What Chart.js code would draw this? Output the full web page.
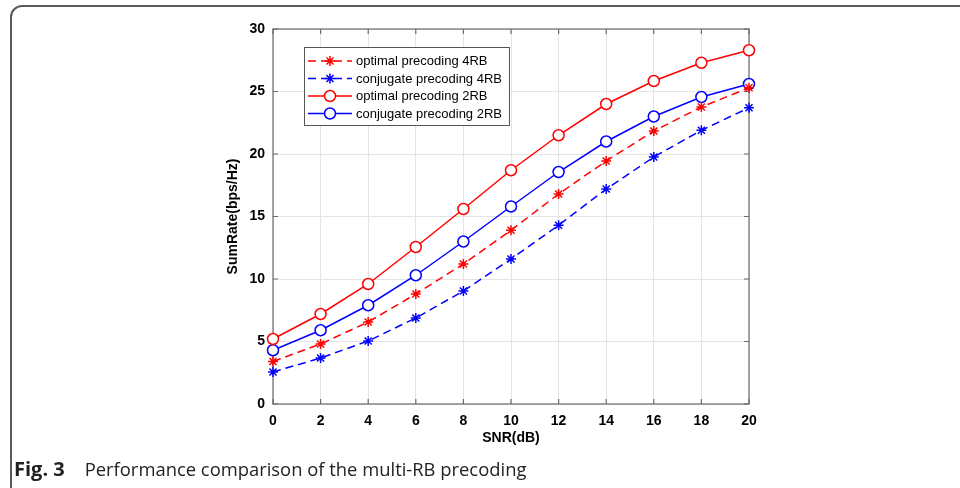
<!DOCTYPE html>
<html><head><meta charset="utf-8">
<script src="https://cdn.jsdelivr.net/npm/chart.js@4/dist/chart.umd.min.js"></script>
<style>
html,body{margin:0;padding:0;background:#fff;width:960px;height:488px;overflow:hidden}
#frame{position:absolute;left:10px;top:5px;width:1000px;height:600px;border:2px solid #5a5a5a;border-radius:12px;box-sizing:border-box}
#wrap{position:absolute;left:0;top:0;width:960px;height:488px}
#cap{position:absolute;left:14px;top:456px;font-family:"Open Sans";font-size:18.4px;color:#222;white-space:nowrap;line-height:26px}
#cap b{font-weight:700;font-size:20px;margin-right:20px}
</style></head><body>
<div id="frame"></div>
<div id="wrap"><canvas id="c" width="960" height="488"></canvas></div>
<div id="cap"><b>Fig. 3</b>Performance comparison of the multi-RB precoding</div>
<script>
const snr = [0, 2, 4, 6, 8, 10, 12, 14, 16, 18, 20];
const optimal4RB   = [3.4, 4.8, 6.56, 8.8, 11.2, 13.9, 16.8, 19.44, 21.84, 23.76, 25.3];
const conjugate4RB = [2.56, 3.68, 5.04, 6.88, 9.04, 11.6, 14.3, 17.2, 19.76, 21.9, 23.7];
const optimal2RB   = [5.2, 7.2, 9.6, 12.56, 15.6, 18.7, 21.5, 24.0, 25.84, 27.3, 28.3];
const conjugate2RB = [4.3, 5.9, 7.9, 10.3, 13.0, 15.8, 18.56, 21.0, 23.0, 24.56, 25.6];
const seriesLabels = ['optimal precoding 4RB','conjugate precoding 4RB','optimal precoding 2RB','conjugate precoding 2RB'];
const xTicks = snr;
const yTicks = [0, 5, 10, 15, 20, 25, 30];

const RED = '#ff0000', BLUE = '#0000ff';
const pts = arr => arr.map((v, i) => ({x: snr[i], y: v}));
function ds(label, data, color, dashed, style) {
  return {
    label, data: pts(data), borderColor: color, backgroundColor: style === 'circle' ? '#ffffff' : color,
    borderWidth: 1.5, borderDash: dashed ? [8, 5] : [], pointStyle: style,
    pointRadius: style === 'circle' ? 5.5 : 5, pointBorderColor: color,
    pointBackgroundColor: style === 'circle' ? '#ffffff' : color,
    pointBorderWidth: 1.5, tension: 0, clip: false, fill: false
  };
}

function drawMarker(ctx, style, x, y, color) {
  ctx.save();
  ctx.setLineDash([]);
  ctx.strokeStyle = color; ctx.lineWidth = 1.5;
  if (style === 'circle') {
    ctx.fillStyle = '#fff';
    ctx.beginPath(); ctx.arc(x, y, 5.5, 0, Math.PI * 2); ctx.fill(); ctx.stroke();
  } else {
    const r = 5;
    ctx.beginPath();
    for (let k = 0; k < 4; k++) {
      const a = k * Math.PI / 4;
      ctx.moveTo(x - r * Math.cos(a), y - r * Math.sin(a));
      ctx.lineTo(x + r * Math.cos(a), y + r * Math.sin(a));
    }
    ctx.stroke();
  }
  ctx.restore();
}

const boxPlugin = {
  id: 'box',
  beforeDatasetsDraw(chart) {
    const {ctx, chartArea: a, scales} = chart;
    ctx.save();
    ctx.strokeStyle = '#6b6b6b'; ctx.lineWidth = 1.2;
    ctx.strokeRect(a.left, a.top, a.right - a.left, a.bottom - a.top);
    ctx.beginPath();
    xTicks.forEach(t => {
      const px = scales.x.getPixelForValue(t);
      ctx.moveTo(px, a.bottom); ctx.lineTo(px, a.bottom - 5);
      ctx.moveTo(px, a.top); ctx.lineTo(px, a.top + 5);
    });
    yTicks.forEach(t => {
      const py = scales.y.getPixelForValue(t);
      ctx.moveTo(a.left, py); ctx.lineTo(a.left + 5, py);
      ctx.moveTo(a.right, py); ctx.lineTo(a.right - 5, py);
    });
    ctx.stroke();
    ctx.restore();
  },
  afterDatasetsDraw(chart) {
    const {ctx} = chart;
    const L = 304, T = 47, W = 205, H = 78;
    ctx.save();
    ctx.fillStyle = '#fff';
    ctx.fillRect(L, T, W, H);
    ctx.strokeStyle = '#555'; ctx.lineWidth = 1;
    ctx.strokeRect(L + 0.5, T + 0.5, W, H);
    const rows = [61, 78.5, 96, 113.5];
    chart.data.datasets.forEach((d, i) => {
      const y = rows[i];
      ctx.strokeStyle = d.borderColor; ctx.lineWidth = 1.5;
      ctx.setLineDash(d.borderDash);
      ctx.beginPath(); ctx.moveTo(308, y); ctx.lineTo(352, y); ctx.stroke();
      drawMarker(ctx, d.pointStyle, 330, y, d.borderColor);
      ctx.setLineDash([]);
      ctx.fillStyle = '#000';
      ctx.font = '13px "Liberation Sans", Arial, sans-serif';
      ctx.textBaseline = 'middle';
      ctx.fillText(d.label, 356, y + 0.5);
    });
    ctx.restore();
  }
};

new Chart(document.getElementById('c'), {
  type: 'line',
  data: {
    datasets: [
      ds(seriesLabels[0], optimal4RB, RED, true, 'star'),
      ds(seriesLabels[1], conjugate4RB, BLUE, true, 'star'),
      ds(seriesLabels[2], optimal2RB, RED, false, 'circle'),
      ds(seriesLabels[3], conjugate2RB, BLUE, false, 'circle')
    ]
  },
  options: {
    responsive: false, animation: false, devicePixelRatio: 1,
    layout: {padding: {left: 220, top: 29, right: 211, bottom: 38}},
    plugins: {legend: {display: false}, tooltip: {enabled: false}},
    scales: {
      x: {
        type: 'linear', min: 0, max: 20,
        afterBuildTicks: s => { s.ticks = xTicks.map(v => ({value: v})); },
        afterFit: s => { s.height = 46; },
        grid: {color: '#e4e4e4', drawTicks: false, lineWidth: 1},
        border: {display: false},
        ticks: {padding: 9, color: '#000', font: {family: '"Liberation Sans", Arial', size: 14, weight: 'bold'}, maxRotation: 0},
        title: {display: true, text: 'SNR(dB)', color: '#000', padding: {top: 0, bottom: 3}, font: {family: '"Liberation Sans", Arial', size: 14, weight: 'bold'}}
      },
      y: {
        type: 'linear', min: 0, max: 30,
        afterBuildTicks: s => { s.ticks = yTicks.map(v => ({value: v})); },
        afterFit: s => { s.width = 53; },
        grid: {color: '#e4e4e4', drawTicks: false, lineWidth: 1},
        border: {display: false},
        ticks: {padding: 8, color: '#000', font: {family: '"Liberation Sans", Arial', size: 14, weight: 'bold'}},
        title: {display: true, text: 'SumRate(bps/Hz)', color: '#000', padding: {top: 5, bottom: 0}, font: {family: '"Liberation Sans", Arial', size: 14, weight: 'bold'}}
      }
    }
  },
  plugins: [boxPlugin]
});
</script>
</body></html>
